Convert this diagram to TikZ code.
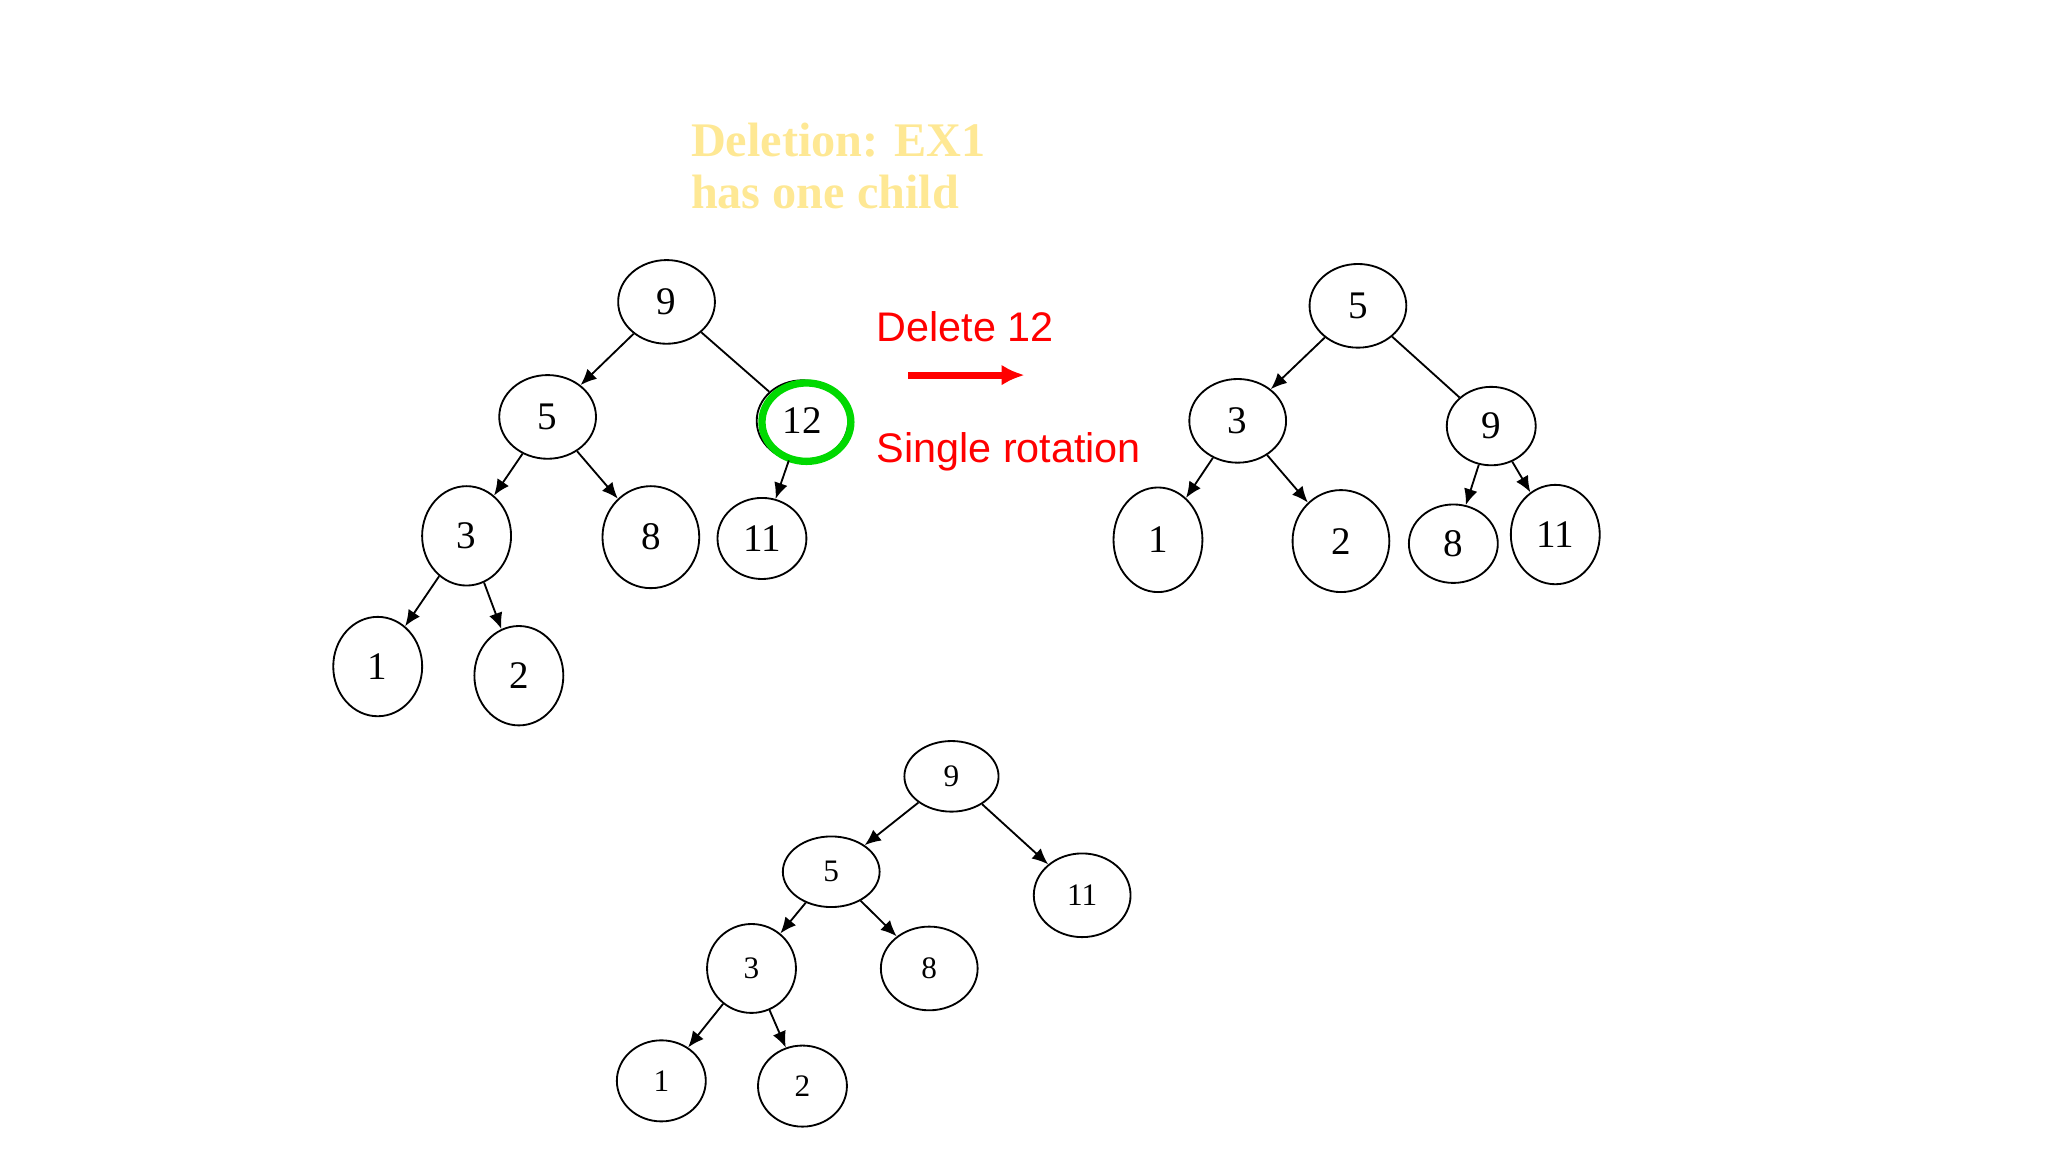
\documentclass[tikz,border=0pt]{standalone}
\usepackage{fontspec}
\setmainfont{Liberation Serif}
\newfontfamily\redsans{Liberation Sans}
\usetikzlibrary{shapes.geometric,arrows.meta}
\begin{document}
\begin{tikzpicture}[x=0.01cm,y=-0.01cm,
  nd/.style={draw,ellipse,inner sep=0pt,font=\fontsize{8.5}{10}\selectfont},
  sm/.style={draw,ellipse,inner sep=0pt,font=\fontsize{6.8}{8}\selectfont},
  ar/.style={-{Latex[length=3.5pt,width=3pt]},line width=0.4pt},
  ln/.style={line width=0.4pt}]
\useasboundingbox (0,0) rectangle (1567,882);
% title
\node[anchor=west,align=left,inner sep=0pt,text=yellow!30!white!85!orange,font=\bfseries\fontsize{10.5}{11.5}\selectfont] (t) at (528,127) {Deletion: EX1\\has one child};
% left tree
\node[nd,minimum width=.74cm,minimum height=.64cm] (a9) at (510,231) {9};
\node[nd,minimum width=.74cm,minimum height=.64cm] (a5) at (419,319) {5};
\node[nd,minimum width=.70cm,minimum height=.62cm] (a12) at (614,322) {12};
\draw[green!85!black,line width=1.6pt] (617,323) ellipse (34 and 30);
\node[nd,minimum width=.68cm,minimum height=.76cm] (a3) at (357,410) {3};
\node[nd,minimum width=.74cm,minimum height=.78cm] (a8) at (498,411) {8};
\node[nd,minimum width=.68cm,minimum height=.62cm] (a11) at (583,412) {11};
\node[nd,minimum width=.68cm,minimum height=.76cm] (a1) at (289,510) {1};
\node[nd,minimum width=.68cm,minimum height=.76cm] (a2) at (397,517) {2};
\draw[ar] (a9) -- (a5);
\draw[ln] (a9) -- (a12);
\draw[ar] (a5) -- (a3);
\draw[ar] (a5) -- (a8);
\draw[ar] (a12) -- (a11);
\draw[ar] (a3) -- (a1);
\draw[ar] (a3) -- (a2);
% middle
\node[anchor=west,inner sep=0pt,text=red,font=\redsans\fontsize{9}{11}\selectfont] (d) at (670,250) {Delete 12};
\node[anchor=west,inner sep=0pt,text=red,font=\redsans\fontsize{9}{11}\selectfont] (s) at (670,346) {Single rotation};
\coordinate (r1) at (695,287); \coordinate (r2) at (784,287);
\draw[red,line width=1.5pt,-{Latex[length=5pt,width=4.5pt]}] (r1) -- (r2);
% right tree
\node[nd,minimum width=.74cm,minimum height=.64cm] (b5) at (1039,234) {5};
\node[nd,minimum width=.74cm,minimum height=.64cm] (b3) at (947,322) {3};
\node[nd,minimum width=.68cm,minimum height=.60cm] (b9) at (1141,326) {9};
\node[nd,minimum width=.68cm,minimum height=.80cm] (b1) at (886,413) {1};
\node[nd,minimum width=.74cm,minimum height=.78cm] (b2) at (1026,414) {2};
\node[nd,minimum width=.68cm,minimum height=.60cm] (b8) at (1112,416) {8};
\node[nd,minimum width=.68cm,minimum height=.76cm] (b11) at (1190,409) {11};
\draw[ar] (b5) -- (b3);
\draw[ln] (b5) -- (b9);
\draw[ar] (b3) -- (b1);
\draw[ar] (b3) -- (b2);
\draw[ar] (b9) -- (b8);
\draw[ar] (b9) -- (b11);
% bottom tree
\node[sm,minimum width=.72cm,minimum height=.54cm] (c9) at (728,594) {9};
\node[sm,minimum width=.74cm,minimum height=.54cm] (c5) at (636,667) {5};
\node[sm,minimum width=.74cm,minimum height=.64cm] (c11) at (828,685) {11};
\node[sm,minimum width=.68cm,minimum height=.68cm] (c3) at (575,741) {3};
\node[sm,minimum width=.74cm,minimum height=.64cm] (c8) at (711,741) {8};
\node[sm,minimum width=.68cm,minimum height=.62cm] (c1) at (506,827) {1};
\node[sm,minimum width=.68cm,minimum height=.62cm] (c2) at (614,831) {2};
\draw[ar] (c9) -- (c5);
\draw[ar] (c9) -- (c11);
\draw[ar] (c5) -- (c3);
\draw[ar] (c5) -- (c8);
\draw[ar] (c3) -- (c1);
\draw[ar] (c3) -- (c2);
\end{tikzpicture}
\end{document}
